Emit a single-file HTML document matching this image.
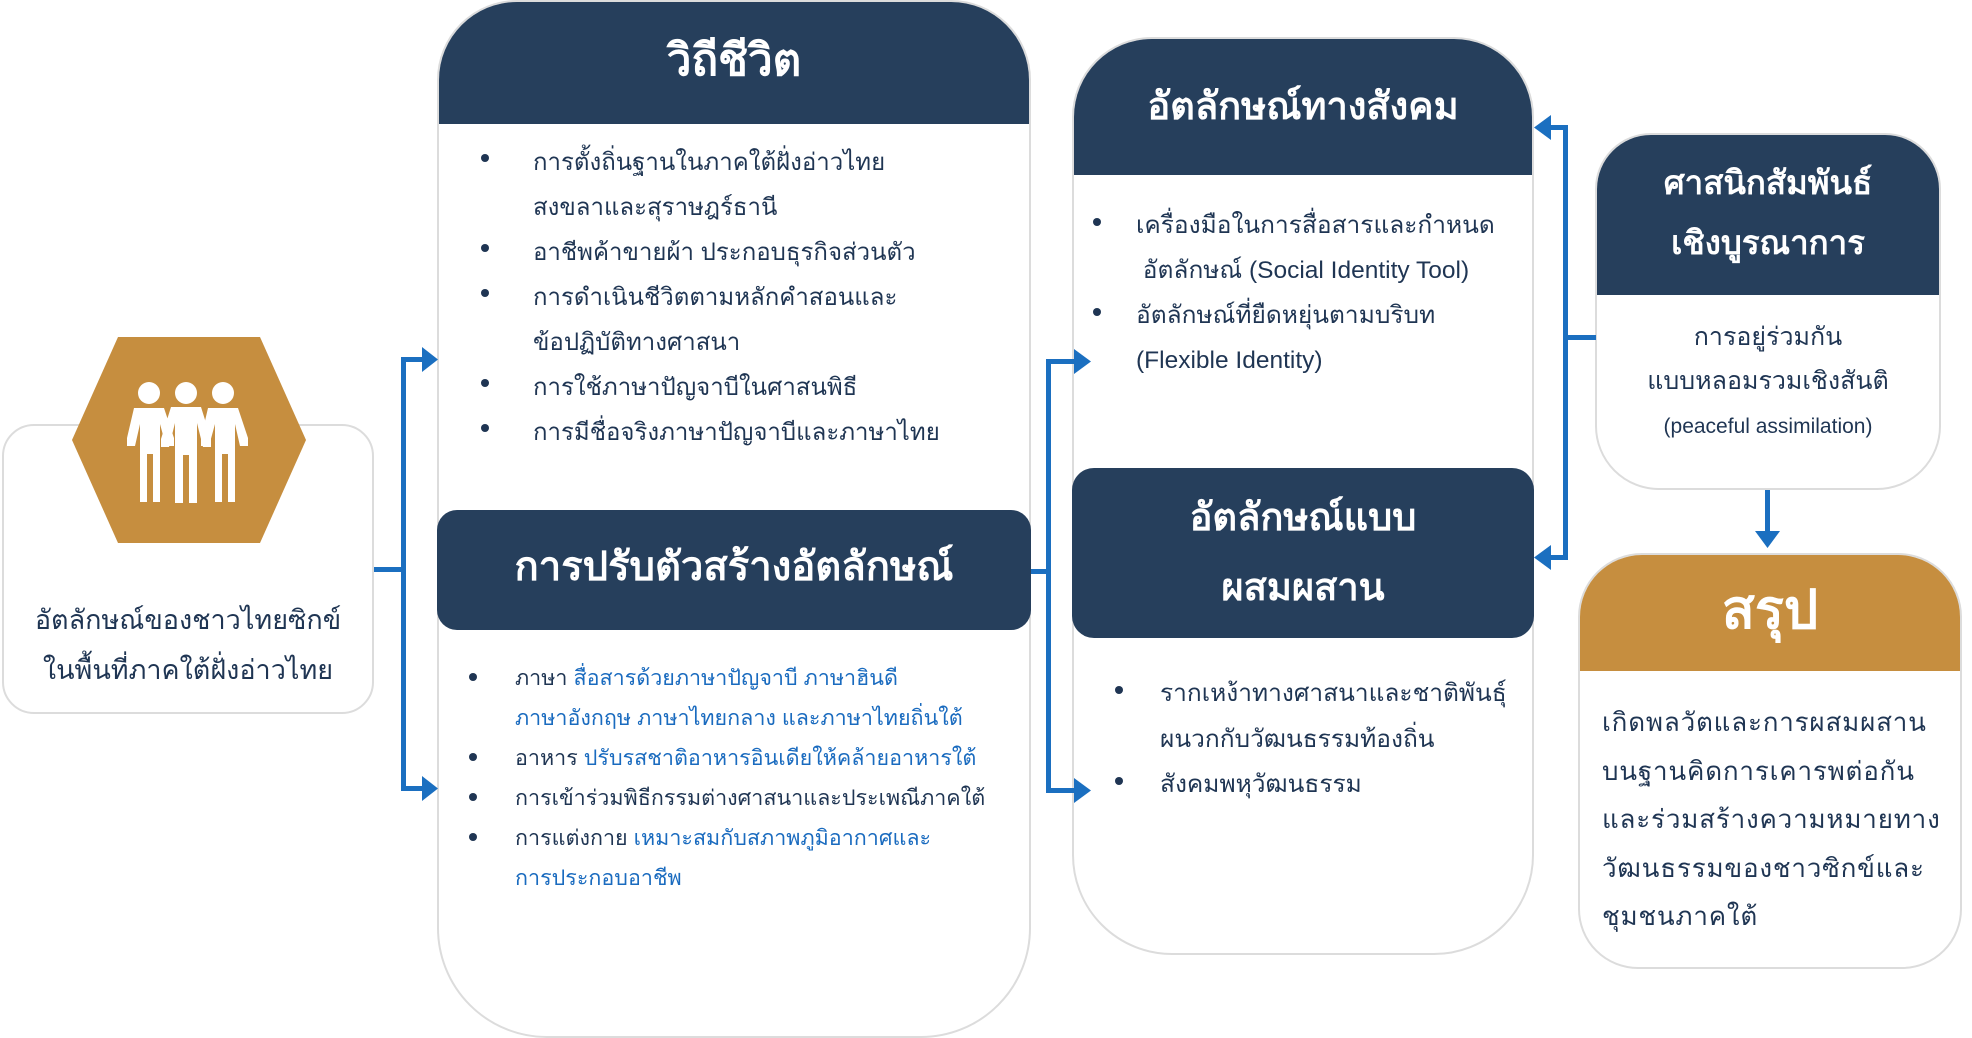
<!DOCTYPE html>
<html><head><meta charset="utf-8">
<style>
body{margin:0;width:1972px;height:1032px;background:#fff;position:relative;overflow:hidden;font-family:"Liberation Sans","Noto Sans CJK SC",sans-serif;color:#1f3553}
.a{position:absolute}
.box{position:absolute;background:#fff;border:2px solid #dcdcdc;box-sizing:border-box;overflow:hidden}
.hd{position:absolute;left:0;right:0;background:#263f5c;color:#fff;text-align:center}
.t{position:absolute;white-space:nowrap}
.b{position:absolute;width:8px;height:8px;border-radius:50%;background:#1f3553}
.bl{color:#1a6bbf}
.ln{position:absolute;background:#1b6fc0;z-index:5}
svg.a{z-index:5}
</style></head><body>

<!-- left box -->
<div class="box" style="left:2px;top:424px;width:372px;height:290px;border-radius:32px"></div>
<svg class="a" style="left:0;top:0" width="420" height="720">
<polygon points="118,337 260,337 306,440 260,543 118,543 72,440" fill="#c68e3f"/>
<g fill="#fff">
<circle cx="149" cy="393" r="11"/><circle cx="186" cy="393" r="11"/><circle cx="223" cy="393" r="11"/>
<path d="M134 408 h30 l10 30 v8 h-8 l-6 -22 v78 h-7 v-48 h-6 v48 h-7 v-78 l-5 22 h-8 v-8 z"/>
<path d="M171 407 h30 l10 32 v8 h-8 l-6 -24 v80 h-8 v-48 h-6 v48 h-8 v-80 l-6 24 h-8 v-8 z"/>
<path d="M208 408 h30 l10 30 v8 h-8 l-5 -22 v78 h-7 v-48 h-6 v48 h-7 v-78 l-6 22 h-8 v-8 z"/>
</g>
</svg>
<div class="t" style="left:2px;width:372px;text-align:center;top:595px;font-size:27px;line-height:50px">อัตลักษณ์ของชาวไทยซิกข์<br>ในพื้นที่ภาคใต้ฝั่งอ่าวไทย</div>

<!-- connector 1 -->
<div class="ln" style="left:374px;top:567px;width:30px;height:5px"></div>
<div class="ln" style="left:401px;top:357px;width:5px;height:434px"></div>
<div class="ln" style="left:401px;top:357px;width:24px;height:5px"></div>
<div class="ln" style="left:401px;top:786px;width:24px;height:5px"></div>
<svg class="a" style="left:422px;top:347px" width="18" height="26"><polygon points="0,0 16,12.5 0,25" fill="#1b6fc0"/></svg>
<svg class="a" style="left:422px;top:776px" width="18" height="26"><polygon points="0,0 16,12.5 0,25" fill="#1b6fc0"/></svg>

<!-- big box 1 -->
<div class="box" style="left:437px;top:0;width:594px;height:1038px;border-radius:80px 80px 110px 110px">
 <div class="hd" style="top:0;height:122px;font-size:44px;line-height:118px;font-weight:bold">วิถีชีวิต</div>
</div>
<div class="t" style="left:533px;top:140px;font-size:24px;line-height:45px">การตั้งถิ่นฐานในภาคใต้ฝั่งอ่าวไทย<br>สงขลาและสุราษฎร์ธานี<br>อาชีพค้าขายผ้า ประกอบธุรกิจส่วนตัว<br>การดำเนินชีวิตตามหลักคำสอนและ<br>ข้อปฏิบัติทางศาสนา<br>การใช้ภาษาปัญจาบีในศาสนพิธี<br>การมีชื่อจริงภาษาปัญจาบีและภาษาไทย</div>
<div class="b" style="left:481px;top:154px"></div>
<div class="b" style="left:481px;top:244px"></div>
<div class="b" style="left:481px;top:289px"></div>
<div class="b" style="left:481px;top:379px"></div>
<div class="b" style="left:481px;top:424px"></div>
<div class="a" style="left:437px;top:510px;width:594px;height:120px;background:#263f5c;border-radius:20px;color:#fff;text-align:center;font-size:40px;line-height:114px;font-weight:bold">การปรับตัวสร้างอัตลักษณ์</div>
<div class="t" style="left:515px;top:658px;font-size:21.5px;line-height:40px">ภาษา <span class="bl">สื่อสารด้วยภาษาปัญจาบี ภาษาฮินดี</span><br><span class="bl">ภาษาอังกฤษ ภาษาไทยกลาง และภาษาไทยถิ่นใต้</span><br>อาหาร <span class="bl">ปรับรสชาติอาหารอินเดียให้คล้ายอาหารใต้</span><br>การเข้าร่วมพิธีกรรมต่างศาสนาและประเพณีภาคใต้<br>การแต่งกาย <span class="bl">เหมาะสมกับสภาพภูมิอากาศและ</span><br><span class="bl">การประกอบอาชีพ</span></div>
<div class="b" style="left:469px;top:673px"></div>
<div class="b" style="left:469px;top:753px"></div>
<div class="b" style="left:469px;top:793px"></div>
<div class="b" style="left:469px;top:833px"></div>

<!-- connector 2 -->
<div class="ln" style="left:1031px;top:569px;width:20px;height:5px"></div>
<div class="ln" style="left:1046px;top:359px;width:5px;height:434px"></div>
<div class="ln" style="left:1046px;top:359px;width:30px;height:5px"></div>
<div class="ln" style="left:1046px;top:788px;width:30px;height:5px"></div>
<svg class="a" style="left:1074px;top:349px" width="18" height="26"><polygon points="0,0 17,12.5 0,25" fill="#1b6fc0"/></svg>
<svg class="a" style="left:1074px;top:778px" width="18" height="26"><polygon points="0,0 17,12.5 0,25" fill="#1b6fc0"/></svg>

<!-- box 2 -->
<div class="box" style="left:1072px;top:37px;width:462px;height:918px;border-radius:80px 80px 100px 100px">
 <div class="hd" style="top:0;height:136px;font-size:38px;line-height:136px;font-weight:bold">อัตลักษณ์ทางสังคม</div>
</div>
<div class="t" style="left:1136px;top:203px;font-size:24.5px;line-height:45px">เครื่องมือในการสื่อสารและกำหนด<br>&nbsp;อัตลักษณ์ (Social Identity Tool)<br>อัตลักษณ์ที่ยืดหยุ่นตามบริบท<br>(Flexible Identity)</div>
<div class="b" style="left:1093px;top:218px"></div>
<div class="b" style="left:1093px;top:308px"></div>
<div class="a" style="left:1072px;top:468px;width:462px;height:170px;background:#263f5c;border-radius:22px;color:#fff;text-align:center;font-size:38px;line-height:70px;font-weight:bold;padding-top:15px;box-sizing:border-box">อัตลักษณ์แบบ<br>ผสมผสาน</div>
<div class="t" style="left:1160px;top:671px;font-size:24.5px;line-height:45.5px">รากเหง้าทางศาสนาและชาติพันธุ์<br>ผนวกกับวัฒนธรรมท้องถิ่น<br>สังคมพหุวัฒนธรรม</div>
<div class="b" style="left:1115px;top:686px"></div>
<div class="b" style="left:1115px;top:777px"></div>

<!-- connector 3 -->
<div class="ln" style="left:1563px;top:335px;width:33px;height:5px"></div>
<div class="ln" style="left:1563px;top:125px;width:5px;height:435px"></div>
<div class="ln" style="left:1548px;top:125px;width:20px;height:5px"></div>
<div class="ln" style="left:1548px;top:555px;width:20px;height:5px"></div>
<svg class="a" style="left:1534px;top:115px" width="18" height="26"><polygon points="17,0 0,12.5 17,25" fill="#1b6fc0"/></svg>
<svg class="a" style="left:1534px;top:545px" width="18" height="26"><polygon points="17,0 0,12.5 17,25" fill="#1b6fc0"/></svg>

<!-- box 4 -->
<div class="box" style="left:1595px;top:133px;width:346px;height:357px;border-radius:56px 56px 64px 64px">
 <div class="hd" style="top:0;height:160px;font-size:33px;line-height:60px;font-weight:bold;padding-top:18px;box-sizing:border-box">ศาสนิกสัมพันธ์<br>เชิงบูรณาการ</div>
 <div class="t" style="left:0;right:0;text-align:center;top:180px;font-size:25px;line-height:44px">การอยู่ร่วมกัน<br>แบบหลอมรวมเชิงสันติ<br><span style="font-size:21px">(peaceful assimilation)</span></div>
</div>

<!-- down arrow -->
<div class="ln" style="left:1765px;top:490px;width:5px;height:44px"></div>
<svg class="a" style="left:1755px;top:531px" width="26" height="18"><polygon points="0,0 25,0 12.5,17" fill="#1b6fc0"/></svg>

<!-- box 5 -->
<div class="box" style="left:1578px;top:553px;width:384px;height:416px;border-radius:64px 64px 60px 60px">
 <div class="hd" style="top:0;height:116px;background:#c68e3f;font-size:54px;line-height:110px;font-weight:bold">สรุป</div>
 <div class="t" style="left:22px;top:143px;font-size:26px;line-height:48.5px;letter-spacing:0.8px">เกิดพลวัตและการผสมผสาน<br>บนฐานคิดการเคารพต่อกัน<br>และร่วมสร้างความหมายทาง<br>วัฒนธรรมของชาวซิกข์และ<br>ชุมชนภาคใต้</div>
</div>

</body></html>
